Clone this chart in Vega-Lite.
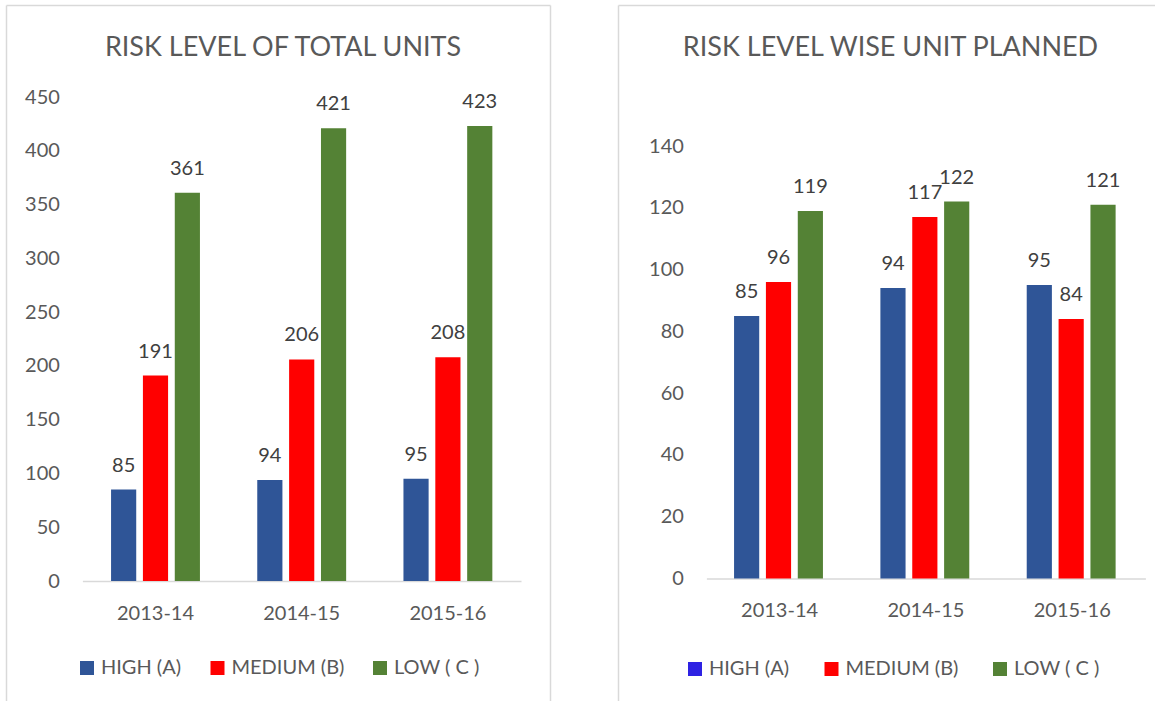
{
  "$schema": "https://vega.github.io/schema/vega-lite/v6.json",
  "padding": {"left": 6, "top": 5, "right": 0, "bottom": 0},
  "autosize": {"type": "pad"},
  "spacing": 68,
  "background": "white",
  "resolve": {"scale": {"color": "independent", "fill": "independent"}, "legend": {"color": "independent", "fill": "independent"}},
  "config": {
    "view": {"stroke": null},
    "font": "Lato",
    "axis": {"labelFont": "Lato", "labelColor": "#595959", "labelFontSize": 20, "ticks": false, "grid": false},
    "text": {"font": "Lato"}
  },
  "datasets": {
    "total": [
      {"year": "2013-14", "risk": "HIGH (A)", "value": 85},
      {"year": "2013-14", "risk": "MEDIUM (B)", "value": 191},
      {"year": "2013-14", "risk": "LOW ( C )", "value": 361},
      {"year": "2014-15", "risk": "HIGH (A)", "value": 94},
      {"year": "2014-15", "risk": "MEDIUM (B)", "value": 206},
      {"year": "2014-15", "risk": "LOW ( C )", "value": 421},
      {"year": "2015-16", "risk": "HIGH (A)", "value": 95},
      {"year": "2015-16", "risk": "MEDIUM (B)", "value": 208},
      {"year": "2015-16", "risk": "LOW ( C )", "value": 423}
    ],
    "planned": [
      {"year": "2013-14", "risk": "HIGH (A)", "value": 85},
      {"year": "2013-14", "risk": "MEDIUM (B)", "value": 96},
      {"year": "2013-14", "risk": "LOW ( C )", "value": 119},
      {"year": "2014-15", "risk": "HIGH (A)", "value": 94},
      {"year": "2014-15", "risk": "MEDIUM (B)", "value": 117},
      {"year": "2014-15", "risk": "LOW ( C )", "value": 122},
      {"year": "2015-16", "risk": "HIGH (A)", "value": 95},
      {"year": "2015-16", "risk": "MEDIUM (B)", "value": 84},
      {"year": "2015-16", "risk": "LOW ( C )", "value": 121}
    ]
  },
  "hconcat": [
    {
      "width": 544,
      "height": 696,
      "title": {"text": "RISK LEVEL OF TOTAL UNITS", "offset": -78, "anchor": "middle", "frame": "group", "baseline": "alphabetic", "fontSize": 27, "font": "Lato", "fontWeight": "normal", "color": "#595959", "dx": 5},
      "data": {"name": "total"},
      "layer": [
        {
          "encoding": {
            "x": {"field": "year", "type": "nominal", "scale": {"range": [76.4, 515], "paddingInner": 0.392, "paddingOuter": 0.196},
              "axis": {"orient": "bottom", "offset": -120, "labelAngle": 0, "domain": true, "domainColor": "#D9D9D9", "domainWidth": 1.5, "labelPadding": 22, "title": null, "ticks": false}},
            "xOffset": {"field": "risk", "type": "nominal", "scale": {"domain": ["HIGH (A)", "MEDIUM (B)", "LOW ( C )"], "paddingInner": 0.21, "paddingOuter": 0}},
            "y": {"field": "value", "type": "quantitative", "scale": {"domain": [0, 450], "range": [576, 92], "nice": false},
              "axis": {"orient": "left", "offset": -76.4, "values": [0, 50, 100, 150, 200, 250, 300, 350, 400, 450], "domain": false, "labelPadding": 23, "title": null}}
          },
          "layer": [
            {"mark": {"type": "bar"},
              "encoding": {"fill": {"field": "risk", "type": "nominal", "scale": {"domain": ["HIGH (A)", "MEDIUM (B)", "LOW ( C )"], "range": ["#2F5597", "#FF0000", "#548235"]},
                "legend": {"orient": "none", "legendX": 71, "legendY": 653, "direction": "horizontal", "title": null, "symbolType": "square", "symbolSize": 196, "symbolOpacity": 1, "symbolStrokeWidth": 0, "labelFontSize": 20, "labelColor": "#595959", "labelFont": "Lato", "labelOffset": 4, "columnPadding": 25.5, "padding": 0}}}},
            {"mark": {"type": "text", "dy": -24, "baseline": "middle", "fontSize": 20, "color": "#404040", "font": "Lato"},
              "encoding": {"text": {"field": "value", "type": "quantitative"}}}
          ]
        },
        {
          "mark": {"type": "square", "opacity": 0, "size": 0},
          "encoding": {
            "x": {"datum": 0, "type": "quantitative", "scale": {"domain": [0, 1]},
              "axis": {"orient": "top", "grid": true, "values": [0, 1], "gridColor": "#D9D9D9", "gridWidth": 1.5, "domain": false, "labels": false, "ticks": false, "title": null}},
            "y": {"datum": 0, "type": "quantitative", "scale": {"domain": [0, 1]},
              "axis": {"orient": "right", "grid": true, "values": [1], "gridColor": "#D9D9D9", "gridWidth": 1.5, "domain": false, "labels": false, "ticks": false, "title": null}}
          }
        }
      ],
      "resolve": {"scale": {"x": "independent", "y": "independent"}}
    },
    {
      "width": 537,
      "height": 696,
      "title": {"text": "RISK LEVEL WISE UNIT PLANNED", "offset": -78, "anchor": "middle", "frame": "group", "baseline": "alphabetic", "fontSize": 27, "font": "Lato", "fontWeight": "normal", "color": "#595959", "dx": 4},
      "data": {"name": "planned"},
      "layer": [
        {
          "encoding": {
            "x": {"field": "year", "type": "nominal", "scale": {"range": [88.4, 527.4], "paddingInner": 0.378, "paddingOuter": 0.189},
              "axis": {"orient": "bottom", "offset": -122.5, "labelAngle": 0, "domain": true, "domainColor": "#D9D9D9", "domainWidth": 1.5, "labelPadding": 22, "title": null, "ticks": false}},
            "xOffset": {"field": "risk", "type": "nominal", "scale": {"domain": ["HIGH (A)", "MEDIUM (B)", "LOW ( C )"], "paddingInner": 0.21, "paddingOuter": 0}},
            "y": {"field": "value", "type": "quantitative", "scale": {"domain": [0, 140], "range": [573.5, 141], "nice": false},
              "axis": {"orient": "left", "offset": -88.4, "values": [0, 20, 40, 60, 80, 100, 120, 140], "domain": false, "labelPadding": 23, "title": null}}
          },
          "layer": [
            {"mark": {"type": "bar"},
              "encoding": {"fill": {"field": "risk", "type": "nominal", "scale": {"range": ["#2F5597", "#548235", "#FF0000"]}, "legend": null}}},
            {"mark": {"type": "text", "dy": -24, "baseline": "middle", "fontSize": 20, "color": "#404040", "font": "Lato"},
              "encoding": {"text": {"field": "value", "type": "quantitative"}}}
          ]
        },
        {
          "mark": {"type": "square", "size": 0},
          "encoding": {
            "x": {"datum": 0, "type": "quantitative", "scale": {"domain": [0, 1]},
              "axis": {"orient": "top", "grid": true, "values": [0], "gridColor": "#D9D9D9", "gridWidth": 1.5, "domain": false, "labels": false, "ticks": false, "title": null}},
            "y": {"datum": 0, "type": "quantitative", "scale": {"domain": [0, 1]},
              "axis": {"orient": "right", "grid": true, "values": [1], "gridColor": "#D9D9D9", "gridWidth": 1.5, "domain": false, "labels": false, "ticks": false, "title": null}},
            "color": {"field": "risk", "type": "nominal", "scale": {"domain": ["HIGH (A)", "MEDIUM (B)", "LOW ( C )"], "range": ["#2E22E3", "#FF0000", "#548235"]},
              "legend": {"orient": "none", "legendX": 67, "legendY": 654, "direction": "horizontal", "title": null, "symbolType": "square", "symbolSize": 196, "symbolOpacity": 1, "symbolStrokeWidth": 0, "labelFontSize": 20, "labelColor": "#595959", "labelFont": "Lato", "labelOffset": 4, "columnPadding": 31.5, "padding": 0}}
          }
        }
      ],
      "resolve": {"scale": {"x": "independent", "y": "independent"}}
    }
  ]
}
